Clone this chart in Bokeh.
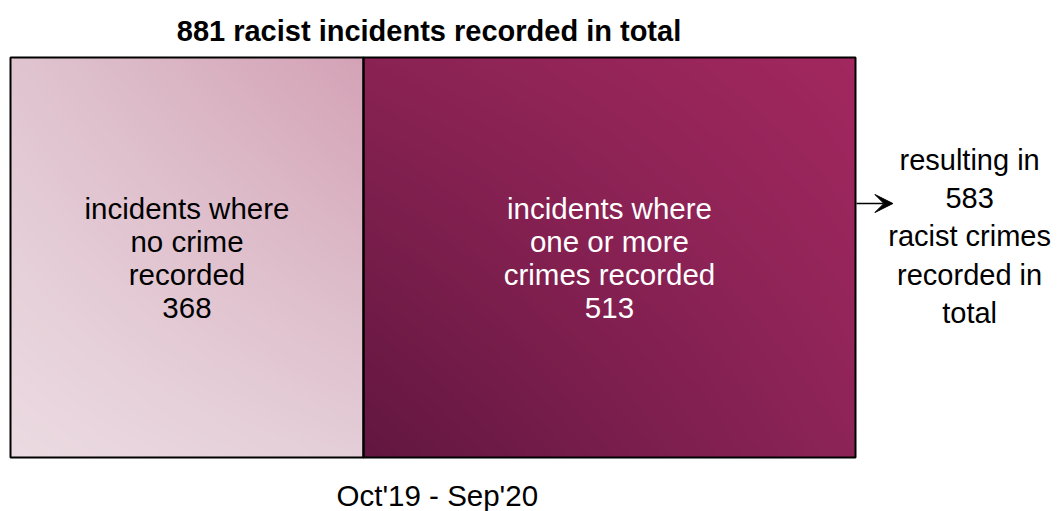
import numpy as np
from bokeh.plotting import figure
from bokeh.models import Range1d, Arrow, VeeHead, ColumnDataSource
from bokeh.core.properties import value
from bokeh.embed import file_html
from bokeh.resources import INLINE

# ---- data ----
categories = ["incidents where\nno crime\nrecorded", "incidents where\none or more\ncrimes recorded"]
counts = [368, 513]
total_incidents = 881
total_crimes = 583
period_label = "Oct'19 - Sep'20"
title_text = f"{total_incidents}  racist incidents recorded in total"
side_text = f"resulting in\n{total_crimes}\nracist crimes\nrecorded in\ntotal"

# gradient corner colours per segment: (top-left, top-right, bottom-left, bottom-right)
seg_corners = [
    ["#e0c5d0", "#d4a2b6", "#ecdbe2", "#e4ced7"],
    ["#8a2354", "#a2285f", "#621740", "#8d2458"],
]
text_colors = ["black", "white"]

W, H = 1057, 511
BAR_L, BAR_R = 10, 855      # px
BAR_T, BAR_B = 57, 457

px_per_unit = (BAR_R - BAR_L) / total_incidents
x0 = -BAR_L / px_per_unit
x1 = x0 + W / px_per_unit
y_top = BAR_B / (BAR_B - BAR_T)
y_bot = -(H - BAR_B) / (BAR_B - BAR_T)

p = figure(width=W, height=H, output_backend="svg", toolbar_location=None,
           x_range=Range1d(x0, x1), y_range=Range1d(y_bot, y_top),
           min_border=0, min_border_left=0, min_border_right=0,
           min_border_top=0, min_border_bottom=0)
p.axis.visible = False
p.grid.visible = False
p.outline_line_color = None
p.background_fill_color = "white"


def hex2rgb(h):
    h = h.lstrip("#")
    return np.array([int(h[i:i + 2], 16) for i in (0, 2, 4)], dtype=float)


lefts = np.cumsum([0] + counts[:-1])
rights = lefts + np.array(counts)

for i, c in enumerate(counts):
    tl, tr, bl, br = [hex2rgb(h) for h in seg_corners[i]]
    ny, nx = 200, 200
    u = np.linspace(0, 1, nx)[None, :, None]
    v = np.linspace(0, 1, ny)[:, None, None]  # 0 bottom, 1 top
    col = (1 - v) * ((1 - u) * bl + u * br) + v * ((1 - u) * tl + u * tr)
    img = np.zeros((ny, nx), dtype=np.uint32)
    view = img.view(dtype=np.uint8).reshape((ny, nx, 4))
    view[:, :, 0:3] = np.clip(col, 0, 255).astype(np.uint8)
    view[:, :, 3] = 255
    p.image_rgba(image=[img], x=float(lefts[i]), y=0, dw=float(c), dh=1)

src = ColumnDataSource(dict(y=[0.5, 0.5], left=lefts, right=rights,
                            label=[f"{categories[i]}\n{counts[i]}" for i in range(2)],
                            xc=(lefts + rights) / 2, tc=text_colors))
p.hbar(y="y", left="left", right="right", height=1, source=src,
       fill_color=None, line_color="black", line_width=2)

font = value("Liberation Sans")
p.text(x="xc", y="y", text="label", source=src, text_color="tc",
       text_font=font, text_font_size="29.5px", text_align="center",
       text_baseline="middle", text_line_height=1.0)

p.text(x=[total_incidents / 2], y=[1.0675], text=[title_text], text_font=font,
       text_font_size="29px", text_font_style="bold", text_align="center",
       text_baseline="middle", text_color="black")

p.text(x=[445], y=[-0.095], text=[period_label], text_font=font,
       text_font_size="29.5px", text_align="center", text_baseline="middle",
       text_color="black")

p.text(x=[1000], y=[0.5525], text=[side_text], text_font=font,
       text_font_size="29px", text_align="center", text_baseline="middle",
       text_color="black", text_line_height=1.19)

p.add_layout(Arrow(end=VeeHead(size=18, fill_color="black", line_color="black"),
                   x_start=total_incidents + 1, y_start=0.635,
                   x_end=total_incidents + 39, y_end=0.635,
                   line_color="black", line_width=1.5))

open("out.html", "w").write(file_html(p, INLINE))
